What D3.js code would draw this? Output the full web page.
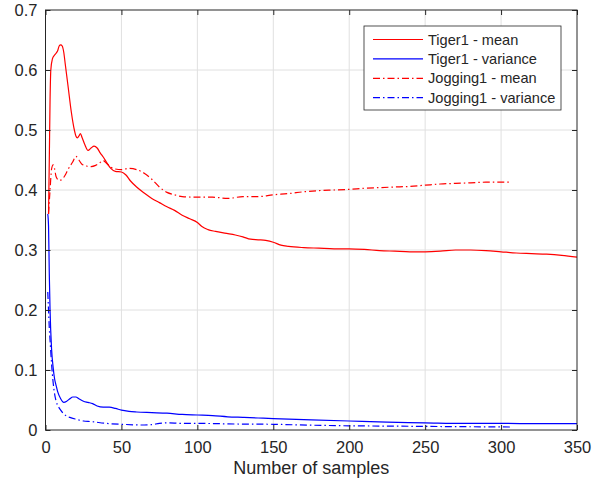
<!DOCTYPE html>
<html>
<head>
<meta charset="utf-8">
<script src="https://cdn.jsdelivr.net/npm/d3@7"></script>
<style>
  body { margin: 0; background: #fff; }
  text { font-family: "Liberation Sans", Arial, sans-serif; fill: #262626; }
</style>
</head>
<body>
<div id="chart"></div>
<script>
// series values: [samples, value]
const tigerMean = [[2,0.36],[2.5,0.45],[3,0.55],[3.5,0.6],[4.5,0.618],[6,0.625],[8,0.632],[9,0.64],[10,0.642],[11,0.64],[12,0.63],[13,0.61],[15,0.57],[17,0.53],[19,0.5],[20,0.49],[21,0.487],[22,0.49],[23,0.494],[24,0.488],[26,0.475],[28,0.466],[30,0.47],[32,0.473],[34,0.47],[36,0.462],[38,0.455],[40,0.447],[43,0.436],[46,0.431],[50,0.43],[53,0.425],[56,0.415],[60,0.405],[65,0.395],[70,0.386],[75,0.379],[80,0.372],[85,0.366],[90,0.358],[95,0.352],[100,0.346],[103,0.339],[107,0.334],[112,0.331],[118,0.328],[125,0.325],[130,0.322],[135,0.318],[140,0.317],[145,0.316],[150,0.313],[155,0.308],[160,0.306],[170,0.304],[180,0.303],[190,0.302],[200,0.302],[210,0.301],[220,0.299],[230,0.298],[240,0.297],[250,0.297],[260,0.298],[270,0.300],[280,0.300],[290,0.299],[300,0.297],[310,0.295],[320,0.294],[330,0.293],[340,0.291],[350,0.288]];
const tigerVar = [[1.5,0.36],[2,0.34],[2.5,0.26],[3,0.2],[4,0.135],[5,0.105],[6,0.085],[7,0.074],[8,0.064],[10,0.052],[12,0.046],[14,0.048],[16,0.052],[18,0.055],[20,0.055],[22,0.052],[25,0.048],[28,0.046],[31,0.044],[34,0.04],[38,0.038],[42,0.038],[46,0.036],[50,0.033],[55,0.031],[60,0.030],[70,0.029],[80,0.028],[90,0.026],[100,0.025],[110,0.024],[120,0.022],[130,0.021],[140,0.020],[150,0.019],[175,0.017],[200,0.015],[225,0.013],[250,0.012],[275,0.011],[300,0.011],[325,0.0105],[350,0.0105]];
const joggingMean = [[2,0.36],[3,0.40],[4,0.435],[5,0.442],[6,0.435],[7,0.422],[9,0.416],[11,0.418],[13,0.425],[15,0.435],[18,0.447],[20,0.456],[22,0.45],[24,0.443],[27,0.44],[30,0.439],[33,0.441],[36,0.446],[38,0.449],[40,0.445],[43,0.438],[46,0.435],[50,0.434],[55,0.436],[60,0.434],[65,0.428],[70,0.418],[75,0.405],[80,0.396],[85,0.392],[90,0.389],[100,0.388],[110,0.388],[120,0.386],[130,0.389],[140,0.389],[150,0.392],[160,0.394],[170,0.397],[180,0.399],[190,0.4],[200,0.401],[210,0.403],[220,0.404],[230,0.405],[240,0.406],[250,0.408],[260,0.41],[270,0.411],[280,0.412],[290,0.413],[300,0.413],[307,0.413]];
const joggingVar = [[1.5,0.23],[2,0.2],[2.5,0.17],[3,0.15],[4,0.11],[5,0.08],[6,0.06],[7,0.048],[8.5,0.039],[10,0.033],[12,0.027],[14,0.023],[16,0.021],[20,0.018],[25,0.015],[30,0.014],[40,0.011],[50,0.0095],[60,0.0085],[65,0.0083],[70,0.009],[75,0.011],[80,0.012],[90,0.011],[100,0.011],[125,0.010],[150,0.0095],[175,0.008],[200,0.007],[225,0.0065],[250,0.006],[275,0.0055],[307,0.005]];

const xTicks = [0, 50, 100, 150, 200, 250, 300, 350];
const yTicks = [0, 0.1, 0.2, 0.3, 0.4, 0.5, 0.6, 0.7];
const seriesNames = ["Tiger1 - mean", "Tiger1 - variance", "Jogging1 - mean", "Jogging1 - variance"];

const width = 609, height = 485;
const margin = { top: 10, right: 32, bottom: 55, left: 45.5 };
const iw = width - margin.left - margin.right;
const ih = height - margin.top - margin.bottom;

const svg = d3.select("#chart").append("svg")
  .attr("width", width)
  .attr("height", height);

const g = svg.append("g").attr("transform", `translate(${margin.left},${margin.top})`);

const x = d3.scaleLinear().domain([0, 350]).range([0, iw]);
const y = d3.scaleLinear().domain([0, 0.7]).range([ih, 0]);

// grid
g.append("g").selectAll("line").data(xTicks.slice(1, -1)).enter().append("line")
  .attr("x1", d => x(d)).attr("x2", d => x(d)).attr("y1", 0).attr("y2", ih)
  .attr("stroke", "#e0e0e0").attr("stroke-width", 1);
g.append("g").selectAll("line").data(yTicks.slice(1, -1)).enter().append("line")
  .attr("y1", d => y(d)).attr("y2", d => y(d)).attr("x1", 0).attr("x2", iw)
  .attr("stroke", "#e0e0e0").attr("stroke-width", 1);

// lines
const line = d3.line().x(d => x(d[0])).y(d => y(d[1])).curve(d3.curveMonotoneX);
const series = [
  { data: tigerMean, color: "#ff0000", dash: null },
  { data: tigerVar, color: "#0000ff", dash: null },
  { data: joggingMean, color: "#ff0000", dash: "7,3,1.5,3" },
  { data: joggingVar, color: "#0000ff", dash: "7,3,1.5,3" }
];
g.selectAll(".series").data(series).enter().append("path")
  .attr("class", "series")
  .attr("d", d => line(d.data))
  .attr("fill", "none")
  .attr("stroke", d => d.color)
  .attr("stroke-width", 1.2)
  .attr("stroke-dasharray", d => d.dash);

// axes (ticks inward, box on)
const axisStyle = sel => {
  sel.select(".domain").remove();
  sel.selectAll(".tick line").attr("stroke", "#262626");
  sel.selectAll(".tick text").style("font-size", "16.5px").attr("fill", "#262626");
};
g.append("g").attr("transform", `translate(0,${ih})`)
  .call(d3.axisBottom(x).tickValues(xTicks).tickSize(-5).tickPadding(11).tickFormat(d3.format("d")))
  .call(axisStyle);
g.append("g")
  .call(d3.axisLeft(y).tickValues(yTicks).tickSize(-5).tickPadding(8).tickFormat(d => d === 0 ? "0" : d3.format(".1f")(d)))
  .call(axisStyle);
g.append("g")
  .call(d3.axisTop(x).tickValues(xTicks).tickSize(-5).tickFormat(""))
  .call(axisStyle);
g.append("g").attr("transform", `translate(${iw},0)`)
  .call(d3.axisRight(y).tickValues(yTicks).tickSize(-5).tickFormat(""))
  .call(axisStyle);

g.append("rect")
  .attr("width", iw).attr("height", ih)
  .attr("fill", "none").attr("stroke", "#262626").attr("stroke-width", 1);

// x label
svg.append("text")
  .attr("x", margin.left + iw / 2)
  .attr("y", 474)
  .attr("text-anchor", "middle")
  .style("font-size", "18px")
  .text("Number of samples");

// legend
const legend = svg.append("g").attr("transform", "translate(364,26)");
legend.append("rect")
  .attr("width", 197).attr("height", 84)
  .attr("fill", "#fff").attr("stroke", "#262626").attr("stroke-width", 0.8);
const items = legend.selectAll(".item").data(series).enter().append("g")
  .attr("transform", (d, i) => `translate(0,${13.5 + i * 19.4})`);
items.append("line")
  .attr("x1", 9).attr("x2", 59)
  .attr("stroke", d => d.color).attr("stroke-width", 1.2)
  .attr("stroke-dasharray", d => d.dash);
items.append("text")
  .attr("x", 64).attr("dy", "0.35em")
  .style("font-size", "14.6px")
  .text((d, i) => seriesNames[i]);
</script>
</body>
</html>
